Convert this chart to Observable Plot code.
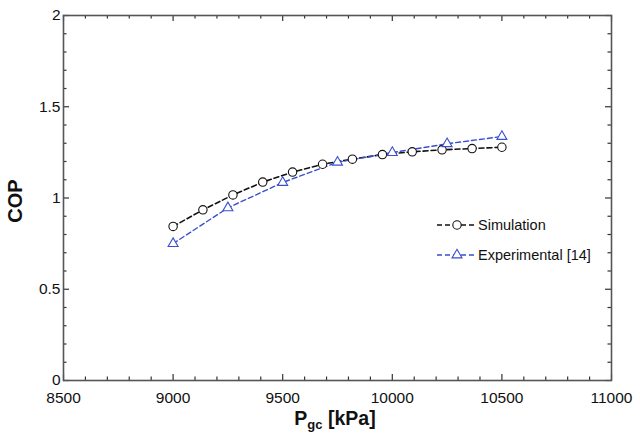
<!DOCTYPE html>
<html><head><meta charset="utf-8">
<script src="https://cdn.jsdelivr.net/npm/d3@7"></script>
<script src="https://cdn.jsdelivr.net/npm/@observablehq/plot@0.6"></script>
<style>body{margin:0;background:#fff} svg{display:block}</style>
</head><body><div id="chart"></div>
<script>
const simPressure = [9000, 9136, 9273, 9409, 9545, 9682, 9818, 9955, 10091, 10227, 10364, 10500];
const simCOP = [0.844, 0.935, 1.017, 1.087, 1.142, 1.185, 1.213, 1.238, 1.253, 1.264, 1.271, 1.278];
const expPressure = [9000, 9250, 9500, 9750, 10000, 10250, 10500];
const expCOP = [0.75, 0.946, 1.085, 1.196, 1.249, 1.297, 1.337];
const seriesNames = ["Simulation", "Experimental [14]"];
const seriesColors = ["#111111", "#3a4fd0"];
const xMajorTicks = [8500, 9000, 9500, 10000, 10500, 11000];
const xMinorTicks = [8600, 8700, 8800, 8900, 9100, 9200, 9300, 9400, 9600, 9700, 9800, 9900, 10100, 10200, 10300, 10400, 10600, 10700, 10800, 10900];
const yMajorTicks = [0, 0.5, 1, 1.5, 2];
const yMinorTicks = [0.1, 0.2, 0.3, 0.4, 0.6, 0.7, 0.8, 0.9, 1.1, 1.2, 1.3, 1.4, 1.6, 1.7, 1.8, 1.9];

const sim = simPressure.map((p, i) => ({p, cop: simCOP[i]}));
const exp = expPressure.map((p, i) => ({p, cop: expCOP[i]}));

const W = 640, H = 439, mL = 63, mR = 29, mT = 15, mB = 59;
const plotW = W - mL - mR, plotH = H - mT - mB;
const tickStroke = "#333";
const tickOpts = {stroke: tickStroke, strokeWidth: 1.2};
const majorLen = 6, minorLen = 3.5;
const tickMarks = [
  Plot.tickX(xMajorTicks, {x: d => d, insetTop: plotH - majorLen, ...tickOpts}),
  Plot.tickX(xMinorTicks, {x: d => d, insetTop: plotH - minorLen, ...tickOpts}),
  Plot.tickX(xMajorTicks, {x: d => d, insetBottom: plotH - majorLen, ...tickOpts}),
  Plot.tickX(xMinorTicks, {x: d => d, insetBottom: plotH - minorLen, ...tickOpts}),
  Plot.tickY(yMajorTicks, {y: d => d, insetRight: plotW - majorLen, ...tickOpts}),
  Plot.tickY(yMinorTicks, {y: d => d, insetRight: plotW - minorLen, ...tickOpts}),
  Plot.tickY(yMajorTicks, {y: d => d, insetLeft: plotW - majorLen, ...tickOpts}),
  Plot.tickY(yMinorTicks, {y: d => d, insetLeft: plotW - minorLen, ...tickOpts})
];

const chart = Plot.plot({
  width: W, height: H,
  marginLeft: mL, marginRight: mR, marginTop: mT, marginBottom: mB,
  style: {fontFamily: "'Liberation Sans', Arial, sans-serif", fontSize: "15px", color: "#111", background: "#fff"},
  x: {domain: [8500, 11000]},
  y: {domain: [0, 2]},
  marks: [
    ...tickMarks,
    Plot.axisX(xMajorTicks, {anchor: "bottom", tickSize: 0, tickPadding: 11, label: null, tickFormat: d => String(d), fontSize: 15.5}),
    Plot.axisY(yMajorTicks, {anchor: "left", tickSize: 0, tickPadding: 3, label: null, tickFormat: d => String(d), fontSize: 15.5}),
    Plot.frame({stroke: "#555", strokeWidth: 1.6}),
    Plot.line(sim, {x: "p", y: "cop", stroke: seriesColors[0], strokeWidth: 1.6, strokeDasharray: "5,3"}),
    Plot.line(exp, {x: "p", y: "cop", stroke: seriesColors[1], strokeWidth: 1.4, strokeDasharray: "5,3"}),
    Plot.dot(sim, {x: "p", y: "cop", r: 4.2, symbol: "circle", fill: "white", stroke: seriesColors[0], strokeWidth: 1.1}),
    Plot.dot(exp, {x: "p", y: "cop", r: 3.7, symbol: "triangle", fill: "white", stroke: seriesColors[1], strokeWidth: 1.1})
  ]
});
document.getElementById("chart").appendChild(chart);

const svg = d3.select(chart);
const font = "'Liberation Sans', Arial, sans-serif";
// Axis titles
svg.append("text")
  .attr("transform", "translate(15,201) rotate(-90)")
  .attr("text-anchor", "middle").attr("dy", "0.35em")
  .attr("font-family", font)
  .attr("font-weight", "bold").attr("font-size", 20).attr("fill", "#111")
  .text("COP");
const xt = svg.append("text")
  .attr("x", 335).attr("y", 425)
  .attr("text-anchor", "middle")
  .attr("font-family", font)
  .attr("font-weight", "bold").attr("font-size", 19.5).attr("fill", "#111");
xt.append("tspan").text("P");
xt.append("tspan").attr("font-size", 13).attr("dy", 4).text("gc");
xt.append("tspan").attr("dy", -4).text(" [kPa]");

// Legend
const legendSymbols = [d3.symbolCircle, d3.symbolTriangle];
const legendR = [4.2, 3.7];
seriesNames.forEach((name, i) => {
  const y = 225 + i * 30;
  const g = svg.append("g");
  g.append("line").attr("x1", 437).attr("x2", 477).attr("y1", y).attr("y2", y)
    .attr("stroke", seriesColors[i]).attr("stroke-width", 1.5).attr("stroke-dasharray", "5,3");
  g.append("path").attr("transform", `translate(457,${y})`)
    .attr("d", d3.symbol(legendSymbols[i], Math.PI * legendR[i] * legendR[i])())
    .attr("fill", "white").attr("stroke", seriesColors[i]).attr("stroke-width", 1.1);
  g.append("text").attr("x", 478).attr("y", y).attr("dy", "0.36em")
    .attr("text-anchor", "start")
    .attr("font-family", font).attr("font-size", 14.5).attr("fill", "#111")
    .text(name);
});
</script>
</body></html>
